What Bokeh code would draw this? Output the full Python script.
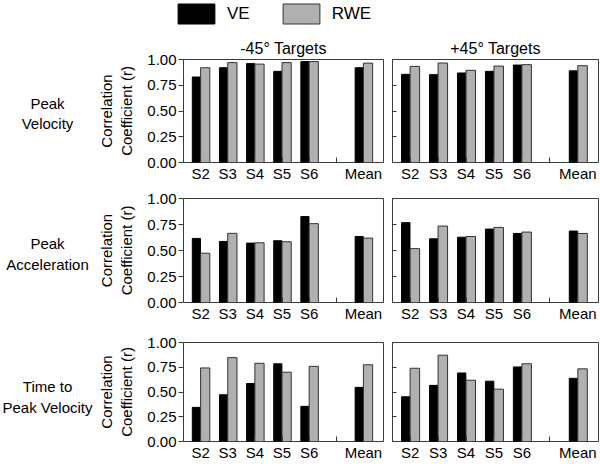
from bokeh.plotting import figure
from bokeh.layouts import column, row
from bokeh.models import (ColumnDataSource, FixedTicker, Range1d, Legend,
                          LegendItem, NumeralTickFormatter, Title, Label)
from bokeh.transform import dodge
from bokeh.embed import file_html
from bokeh.resources import INLINE

# ---------------- data ----------------
slot_labels = ["S2", "S3", "S4", "S5", "S6", "", "Mean"]
slot_pos = [0, 1, 2, 3, 4, 5, 6]
bar_pos = [0, 1, 2, 3, 4, 6]

row_labels = ["Peak\nVelocity", "Peak\nAcceleration", "Time to\nPeak Velocity"]
col_titles = ["-45° Targets", "+45° Targets"]
series_names = ["VE", "RWE"]
y_label = "Correlation\nCoefficient (r)"

# Peak velocity
ve_pv_minus = [0.83, 0.92, 0.96, 0.885, 0.98, 0.92]
rwe_pv_minus = [0.92, 0.97, 0.955, 0.97, 0.98, 0.965]
ve_pv_plus = [0.856, 0.853, 0.869, 0.885, 0.946, 0.89]
rwe_pv_plus = [0.933, 0.966, 0.895, 0.936, 0.95, 0.94]
# Peak acceleration
ve_pa_minus = [0.616, 0.587, 0.571, 0.594, 0.826, 0.635]
rwe_pa_minus = [0.474, 0.665, 0.574, 0.584, 0.758, 0.619]
ve_pa_plus = [0.768, 0.612, 0.628, 0.706, 0.664, 0.687]
rwe_pa_plus = [0.518, 0.735, 0.635, 0.722, 0.677, 0.664]
# Time to peak velocity
ve_tpv_minus = [0.345, 0.472, 0.586, 0.785, 0.355, 0.547]
rwe_tpv_minus = [0.743, 0.847, 0.79, 0.70, 0.759, 0.775]
ve_tpv_plus = [0.452, 0.567, 0.692, 0.609, 0.753, 0.638]
rwe_tpv_plus = [0.74, 0.872, 0.619, 0.529, 0.785, 0.734]

panels = [
    [(ve_pv_minus, rwe_pv_minus), (ve_pv_plus, rwe_pv_plus)],
    [(ve_pa_minus, rwe_pa_minus), (ve_pa_plus, rwe_pa_plus)],
    [(ve_tpv_minus, rwe_tpv_minus), (ve_tpv_plus, rwe_tpv_plus)],
]

# ---------------- style ----------------
FONT = "Liberation Sans"
BLACK = "#000000"
GRAY = "#b0b0b0"
EDGE = "#333333"
FRAME = "#3a3a3a"

LABEL_W = 94
LEFT_BORDER = 83
FRAME_W = 206
GAP_L = 4
GAP_R = 5
RIGHT_END = 1
LEGEND_H = 26
row_frame_h = [103, 104, 102]
row_top = [33, 14, 18]
row_bottom = [22, 22, 19]
row_label_y = [0.475, 0.465, 0.45]


def bars(p, ve, rwe):
    src = ColumnDataSource(dict(pos=bar_pos, ve=ve, rwe=rwe))
    r_ve = p.vbar(x=dodge("pos", -0.155, range=p.x_range), top="ve", width=0.30, bottom=0,
                  source=src, fill_color=BLACK, line_color=BLACK, line_width=1)
    r_rwe = p.vbar(x=dodge("pos", 0.17, range=p.x_range), top="rwe", width=0.34, bottom=0,
                   source=src, fill_color=GRAY, line_color=EDGE, line_width=1)
    return r_ve, r_rwe


def make_panel(r, c, ve, rwe):
    left = LEFT_BORDER if c == 0 else GAP_R
    right = GAP_L if c == 0 else RIGHT_END
    p = figure(width=left + FRAME_W + right,
               height=row_top[r] + row_frame_h[r] + row_bottom[r],
               x_range=Range1d(-0.63, 6.74), y_range=Range1d(0, 1.0),
               output_backend="svg", toolbar_location=None,
               min_border_left=left, min_border_right=right,
               min_border_top=row_top[r], min_border_bottom=row_bottom[r])
    p.background_fill_color = "white"
    p.border_fill_color = "white"
    p.outline_line_color = FRAME
    p.outline_line_width = 1
    p.grid.visible = False

    bars(p, ve, rwe)

    # x axis
    xa = p.xaxis[0]
    xa.ticker = FixedTicker(ticks=slot_pos)
    xa.major_label_overrides = {i: lab for i, lab in zip(slot_pos, slot_labels)}
    xa.major_tick_in = 5
    xa.major_tick_out = 0
    xa.major_tick_line_color = FRAME
    xa.minor_tick_line_color = None
    xa.axis_line_color = None
    xa.major_label_standoff = 2
    xa.major_label_text_font = FONT
    xa.major_label_text_font_size = "15px"
    xa.major_label_text_color = "black"

    # y axis
    ya = p.yaxis[0]
    ya.ticker = FixedTicker(ticks=[0, 0.25, 0.5, 0.75, 1.0])
    ya.formatter = NumeralTickFormatter(format="0.00")
    ya.minor_tick_line_color = None
    ya.axis_line_color = None
    ya.major_tick_line_color = FRAME
    if c == 0:
        ya.major_tick_out = 5
        ya.major_tick_in = 0
        ya.major_label_standoff = 2
        ya.major_label_text_font = FONT
        ya.major_label_text_font_size = "15px"
        ya.major_label_text_color = "black"
        ya.axis_label = y_label
        ya.axis_label_text_font = FONT
        ya.axis_label_text_font_size = "15px"
        ya.axis_label_text_font_style = "normal"
        ya.axis_label_text_color = "black"
        ya.axis_label_standoff = 9
    else:
        ya.major_tick_in = 4
        ya.major_tick_out = 0
        ya.major_label_standoff = 0
        ya.major_label_overrides = {0: "", 0.25: "", 0.5: "", 0.75: "", 1.0: ""}
        ya.major_label_text_font_size = "0px"

    if r == 0:
        p.title = Title(text=col_titles[c], align="center", text_font=FONT,
                        text_font_size="16px", text_font_style="normal",
                        text_color="black", standoff=5, offset=0)
    return p


def make_row_label(r):
    h = row_top[r] + row_frame_h[r] + row_bottom[r]
    p = figure(width=LABEL_W, height=h, output_backend="svg", toolbar_location=None,
               x_axis_location=None, y_axis_location=None,
               x_range=Range1d(0, 1), y_range=Range1d(0, 1),
               min_border_left=0, min_border_right=0, min_border_top=row_top[r],
               min_border_bottom=row_bottom[r])
    p.outline_line_color = None
    p.grid.visible = False
    p.add_layout(Label(x=0.5, y=row_label_y[r], text=row_labels[r], text_align="center",
                       text_baseline="middle", text_font=FONT, text_font_size="15px",
                       text_color="black"))
    return p


rows = []
for r in range(3):
    figs = [make_row_label(r)] + [make_panel(r, c, panels[r][c][0], panels[r][c][1])
                                  for c in range(2)]
    rows.append(row(*figs, spacing=0))

# legend strip (its renderers are hidden; only the legend is shown)
TOTAL_W = LABEL_W + LEFT_BORDER + FRAME_W + GAP_L + GAP_R + FRAME_W + RIGHT_END
lg = figure(width=TOTAL_W, height=LEGEND_H, output_backend="svg", toolbar_location=None,
            x_range=Range1d(0, 1), y_range=Range1d(0, 1),
            x_axis_location=None, y_axis_location=None,
            min_border_left=0, min_border_right=0, min_border_top=0, min_border_bottom=0)
lg.grid.visible = False
lg.outline_line_color = None
lr_ve, lr_rwe = bars(lg, ve_pv_minus, rwe_pv_minus)
lr_ve.visible = False
lr_rwe.visible = False
legend = Legend(items=[LegendItem(label=series_names[0], renderers=[lr_ve]),
                       LegendItem(label=series_names[1], renderers=[lr_rwe])],
                orientation="horizontal", location=(LABEL_W + LEFT_BORDER - 4, 0),
                glyph_width=46, glyph_height=25, label_standoff=8, spacing=28,
                padding=0, margin=0, border_line_color=None, background_fill_alpha=0,
                inactive_fill_alpha=0,
                label_text_font=FONT, label_text_font_size="17px", label_text_color="black",
                label_height=25)
lg.add_layout(legend, "center")

layout = column(lg, *rows, spacing=0)

open("out.html", "w").write(file_html(layout, INLINE))
